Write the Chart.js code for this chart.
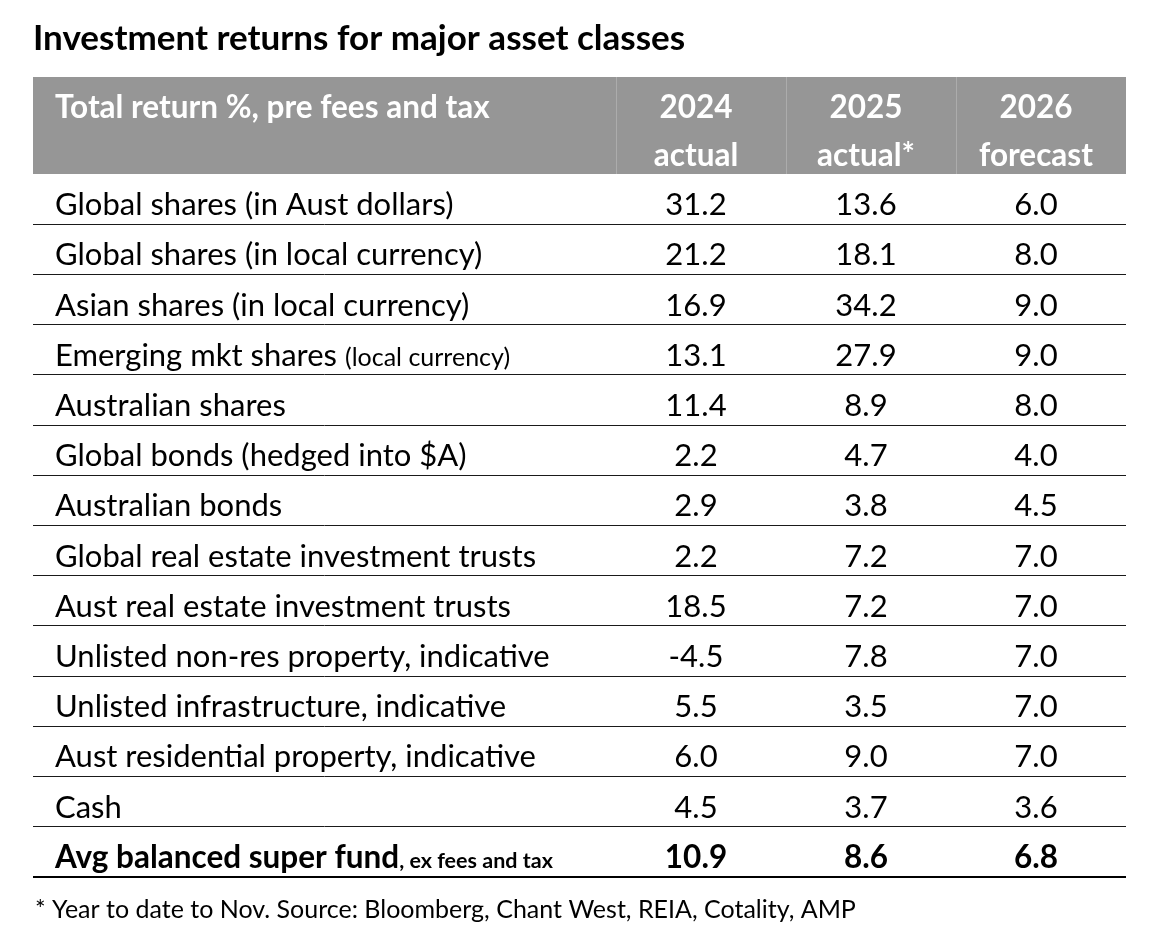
<!DOCTYPE html>
<html>
<head>
<meta charset="utf-8">
<script src="https://cdn.jsdelivr.net/npm/chart.js@4.4.1/dist/chart.umd.min.js"></script>
<style>
  html, body { margin: 0; padding: 0; background: #fff; }
  #wrap { width: 1151px; height: 943px; }
</style>
</head>
<body>
<div id="wrap"><canvas id="returns"></canvas></div>
<script>
// Text
const chartTitle = 'Investment returns for major asset classes';
const headerLabel = 'Total return %, pre fees and tax';
const footnote = '* Year to date to Nov. Source: Bloomberg, Chant West, REIA, Cotality, AMP';

// Columns
const columnYears = ['2024', '2025', '2026'];
const columnKinds = ['actual', 'actual*', 'forecast'];

// Rows (last one is the bold summary row)
const rowLabels = [
    'Global shares (in Aust dollars)',
    'Global shares (in local currency)',
    'Asian shares (in local currency)',
    'Emerging mkt shares (local currency)',
    'Australian shares',
    'Global bonds (hedged into $A)',
    'Australian bonds',
    'Global real estate investment trusts',
    'Aust real estate investment trusts',
    'Unlisted non-res property, indicative',
    'Unlisted infrastructure, indicative',
    'Aust residential property, indicative',
    'Cash',
    'Avg balanced super fund, ex fees and tax'
];
// part of a label that is printed in a smaller font
const rowSmallTail = ['', '', '', '(local currency)', '', '', '', '', '', '', '', '', '', ', ex fees and tax'];

// Values, total return %
const actual2024 = [31.2, 21.2, 16.9, 13.1, 11.4, 2.2, 2.9, 2.2, 18.5, -4.5, 5.5, 6.0, 4.5, 10.9];
const actual2025 = [13.6, 18.1, 34.2, 27.9, 8.9, 4.7, 3.8, 7.2, 7.2, 7.8, 3.5, 9.0, 3.7, 8.6];
const forecast2026 = [6.0, 8.0, 9.0, 9.0, 8.0, 4.0, 4.5, 7.0, 7.0, 7.0, 7.0, 7.0, 3.6, 6.8];

const columnValues = [actual2024, actual2025, forecast2026];
const boldRow = rowLabels.length - 1;

const FONT = 'Lato, "Noto Sans", sans-serif';
const font = (size, bold) => (bold ? 'bold ' : '') + size + 'px ' + FONT;

// one invisible point per cell, the plugin writes the numbers at those points
const datasets = columnValues.map((vals, j) => ({
    label: columnYears[j],
    data: vals.map((v, i) => ({ x: columnYears[j], y: rowLabels[i], v: v })),
    showLine: false,
    pointRadius: 0,
    pointHoverRadius: 0
}));

// Draws the header band, labels and cell values
const tablePlugin = {
    id: 'tableText',
    beforeDraw(chart) {
        const { ctx, scales: { x, y } } = chart;
        ctx.save();
        ctx.fillStyle = '#969696';
        ctx.fillRect(y.left, x.top, x.right - y.left, x.bottom - x.top);
        ctx.restore();
    },
    afterDraw(chart) {
        const { ctx, chartArea, scales: { x, y } } = chart;
        const textLeft = y.left + 22;
        ctx.save();

        // title
        ctx.fillStyle = '#000';
        ctx.textAlign = 'left';
        ctx.textBaseline = 'alphabetic';
        ctx.font = font(35, true);
        ctx.fillText(chartTitle, y.left, x.top - 27);

        // header
        ctx.fillStyle = '#fff';
        ctx.font = font(31.5, true);
        ctx.fillText(headerLabel, textLeft, x.top + 41);
        ctx.textAlign = 'center';
        columnYears.forEach((yr, j) => {
            const cx = x.getPixelForValue(j) - 5;
            ctx.fillText(yr, cx, x.top + 41);
            ctx.fillText(columnKinds[j], cx, x.top + 89);
        });

        // rows
        ctx.fillStyle = '#000';
        rowLabels.forEach((label, i) => {
            const cy = y.getPixelForValue(i) + 16;
            const bold = i === boldRow;
            const tail = rowSmallTail[i];
            const main = tail ? label.slice(0, label.length - tail.length) : label;
            ctx.textAlign = 'left';
            ctx.font = font(bold ? 31.5 : 31, bold);
            ctx.fillText(main, textLeft, cy);
            if (tail) {
                const w = ctx.measureText(main).width;
                ctx.font = font(bold ? 21.5 : 25, bold);
                ctx.fillText(tail, textLeft + w, cy);
            }
        });

        // values from the points
        ctx.textAlign = 'center';
        chart.data.datasets.forEach((ds, j) => {
            chart.getDatasetMeta(j).data.forEach((pt, i) => {
                ctx.font = font(i === boldRow ? 31.5 : 31, i === boldRow);
                ctx.fillText(ds.data[i].v.toFixed(1), pt.x - 5, pt.y + 16);
            });
        });

        // bottom rule
        ctx.strokeStyle = '#000';
        ctx.lineWidth = 2;
        ctx.beginPath();
        ctx.moveTo(y.left, chartArea.bottom);
        ctx.lineTo(x.right, chartArea.bottom);
        ctx.stroke();

        // footnote
        ctx.textAlign = 'left';
        ctx.font = font(25, false);
        ctx.fillText(footnote, y.left + 2, chartArea.bottom + 41);
        ctx.restore();
    }
};

new Chart(document.getElementById('returns'), {
    type: 'line',
    data: { labels: columnYears, datasets: datasets },
    plugins: [tablePlugin],
    options: {
        responsive: true,
        maintainAspectRatio: false,
        animation: false,
        events: [],
        layout: { padding: { top: 77, left: 33, right: 25, bottom: 66 } },
        plugins: { legend: { display: false }, tooltip: { enabled: false } },
        scales: {
            x: {
                type: 'category',
                position: 'top',
                offset: true,
                border: { display: false },
                ticks: { display: false },
                grid: {
                    offset: true,
                    drawOnChartArea: false,
                    drawTicks: true,
                    tickLength: 97,
                    // light separators between header cells
                    color: c => (c.type === 'tick' ? '#acacac' : 'rgba(0,0,0,0)'),
                    lineWidth: 1
                },
                afterFit: s => { s.height = 97; }
            },
            y: {
                type: 'category',
                labels: rowLabels,
                offset: true,
                border: { display: false },
                ticks: { display: false },
                grid: {
                    offset: true,
                    drawTicks: true,
                    tickLength: 583,
                    color: c => (c.type === 'tick' && c.index > 0 ? '#1a1a1a' : 'rgba(0,0,0,0)'),
                    lineWidth: 1
                },
                afterFit: s => { s.width = 583; }
            }
        }
    }
});
</script>
</body>
</html>
